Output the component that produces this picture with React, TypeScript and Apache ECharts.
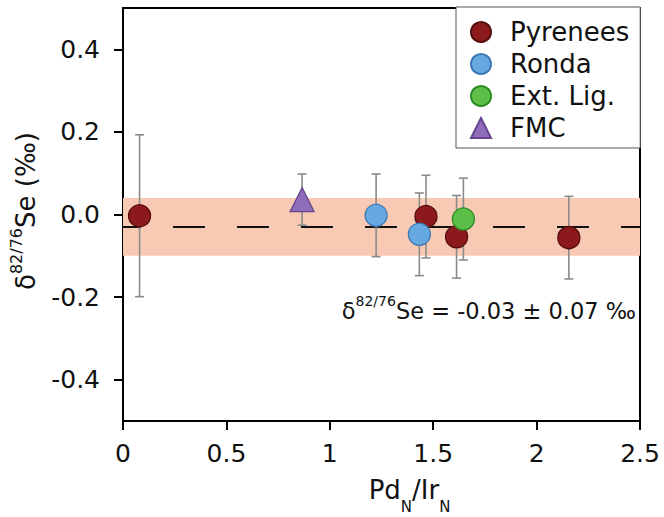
import React, { useEffect, useRef } from 'react';
import * as echarts from 'echarts';

const groupNames = ['Pyrenees', 'Ronda', 'Ext. Lig.', 'FMC'];
const pyreneesX = [0.08, 1.465, 1.613, 2.156];
const pyreneesY = [-0.003, -0.005, -0.054, -0.056];
const pyreneesErr = [0.196, 0.1, 0.1, 0.1];
const rondaX = [1.224, 1.433];
const rondaY = [-0.002, -0.048];
const rondaErr = [0.1, 0.1];
const extLigX = [1.646];
const extLigY = [-0.011];
const extLigErr = [0.099];
const fmcX = [0.866];
const fmcY = [0.036];
const fmcErr = [0.062];
const meanValue = -0.03;
const meanUncertainty = 0.07;
const xMin = 0;
const xMax = 2.5;
const xInterval = 0.5;
const yMin = -0.5;
const yMax = 0.5;
const yTicks = [-0.4, -0.2, 0, 0.2, 0.4];

const FONT = 'DejaVu Sans';

const fills = ['#8c1a1c', '#65a9e0', '#5dbf48', '#8f6dba'];
const borders = ['#560d0f', '#3b78b3', '#2c8a22', '#65468f'];

const zip = (xs: number[], ys: number[]) => xs.map((x, i) => [x, ys[i]]);
const zip3 = (xs: number[], ys: number[], es: number[]) => xs.map((x, i) => [x, ys[i], es[i]]);

export default function App() {
  const ref = useRef<HTMLDivElement>(null);
  useEffect(() => {
    const chart = echarts.init(ref.current!, null, { renderer: 'svg' });
    const groups = [
      { x: pyreneesX, y: pyreneesY, e: pyreneesErr, symbol: 'circle', size: 22 },
      { x: rondaX, y: rondaY, e: rondaErr, symbol: 'circle', size: 22 },
      { x: extLigX, y: extLigY, e: extLigErr, symbol: 'circle', size: 22 },
      { x: fmcX, y: fmcY, e: fmcErr, symbol: 'triangle', size: 24 },
    ];
    const errData = groups.flatMap((g) => zip3(g.x, g.y, g.e));
    const errColor = '#8a8a8a';

    const option: any = {
      animation: false,
      textStyle: { fontFamily: FONT },
      grid: {
        left: 123,
        right: 24,
        top: 8,
        bottom: 96,
        containLabel: false,
        outerBoundsMode: 'none',
        show: true,
        borderColor: '#000',
        borderWidth: 2,
        backgroundColor: 'transparent',
      },
      xAxis: {
        type: 'value',
        min: xMin,
        max: xMax,
        interval: xInterval,
        splitLine: { show: false },
        axisLine: { show: true, onZero: false, lineStyle: { color: '#000', width: 2 } },
        axisTick: { show: true, inside: false, length: 9, lineStyle: { color: '#000', width: 2 } },
        axisLabel: { fontFamily: FONT, fontSize: 25, color: '#111', margin: 20 },
        name: '{m|Pd}{s|N}{m|/Ir}{s|N}',
        nameLocation: 'middle',
        nameGap: 45,
        nameTextStyle: {
          padding: [0, 0, 0, 56],
          rich: {
            m: { fontFamily: FONT, fontSize: 26, color: '#111', lineHeight: 48 },
            s: { fontFamily: FONT, fontSize: 15, color: '#111', lineHeight: 15, verticalAlign: 'bottom' },
          },
        },
      },
      yAxis: {
        type: 'value',
        min: yMin,
        max: yMax,
        splitLine: { show: false },
        axisLine: { show: true, onZero: false, lineStyle: { color: '#000', width: 2 } },
        axisTick: { show: true, inside: false, length: 9, customValues: yTicks, lineStyle: { color: '#000', width: 2 } },
        axisLabel: {
          fontFamily: FONT,
          fontSize: 25,
          color: '#111',
          margin: 23,
          customValues: yTicks,
          formatter: (v: number) => v.toFixed(1),
        },
        name: '{d|δ}{s|82/76}{m|Se (‰)}',
        nameLocation: 'middle',
        nameGap: 80,
        nameTextStyle: {
          padding: [0, 0, 0, 7],
          rich: {
            d: { fontFamily: FONT, fontSize: 26, color: '#111', lineHeight: 35 },
            s: { fontFamily: FONT, fontSize: 16, color: '#111', lineHeight: 16, verticalAlign: 'top' },
            m: { fontFamily: FONT, fontSize: 26, color: '#111', lineHeight: 35 },
          },
        },
      },
      legend: {
        data: groupNames,
        orient: 'vertical',
        left: 456,
        top: 7,
        itemWidth: 20,
        itemHeight: 20,
        itemGap: 6,
        padding: [12, 11, 7, 14],
        backgroundColor: '#fff',
        borderColor: '#555',
        borderWidth: 1,
        borderRadius: 0,
        textStyle: { fontFamily: FONT, fontSize: 26, color: '#111', lineHeight: 26, padding: [0, 0, 0, 14] },
      },
      graphic: [
        {
          type: 'text',
          x: 636,
          y: 311,
          z: 10,
          style: {
            text: '{d|δ}{s|82/76}{m|Se = ' + meanValue.toFixed(2) + ' ± ' + meanUncertainty.toFixed(2) + ' ‰}',
            align: 'right',
            verticalAlign: 'middle',
            rich: {
              d: { fontFamily: FONT, fontSize: 22.5, fill: '#111', lineHeight: 35 },
              s: { fontFamily: FONT, fontSize: 14, fill: '#111', lineHeight: 14, verticalAlign: 'top' },
              m: { fontFamily: FONT, fontSize: 22.5, fill: '#111', lineHeight: 35 },
            },
          },
        },
      ],
      series: [
        {
          type: 'line',
          name: 'mean',
          data: [
            [xMin, meanValue],
            [xMax, meanValue],
          ],
          showSymbol: false,
          symbol: 'none',
          silent: true,
          z: 3,
          lineStyle: { color: '#111', width: 2, type: [32, 32], dashOffset: 14 },
          markArea: {
            silent: true,
            itemStyle: { color: '#f8cab3' },
            data: [[{ yAxis: meanValue + meanUncertainty }, { yAxis: meanValue - meanUncertainty }]],
          },
        },
        {
          type: 'custom',
          name: 'errors',
          data: errData,
          z: 4,
          silent: true,
          encode: { x: 0, y: 1 },
          renderItem: (params: any, api: any) => {
            const x = api.value(0);
            const y = api.value(1);
            const e = api.value(2);
            const top = api.coord([x, y + e]);
            const bot = api.coord([x, y - e]);
            const cap = 4.5;
            const style = { stroke: errColor, lineWidth: 1.6 };
            return {
              type: 'group',
              children: [
                { type: 'line', shape: { x1: top[0], y1: top[1], x2: bot[0], y2: bot[1] }, style },
                { type: 'line', shape: { x1: top[0] - cap, y1: top[1], x2: top[0] + cap, y2: top[1] }, style },
                { type: 'line', shape: { x1: bot[0] - cap, y1: bot[1], x2: bot[0] + cap, y2: bot[1] }, style },
              ],
            };
          },
        },
        ...groups.map((g, i) => ({
          type: 'scatter',
          name: groupNames[i],
          data: zip(g.x, g.y),
          symbol: g.symbol,
          symbolSize: g.size,
          z: 5,
          itemStyle: { color: fills[i], borderColor: borders[i], borderWidth: 1.3, opacity: 1 },
        })),
      ],
    };
    chart.setOption(option);
    return () => chart.dispose();
  }, []);
  return <div ref={ref} style={{ position: 'absolute', left: 0, top: 0, width: 664, height: 517 }} />;
}
